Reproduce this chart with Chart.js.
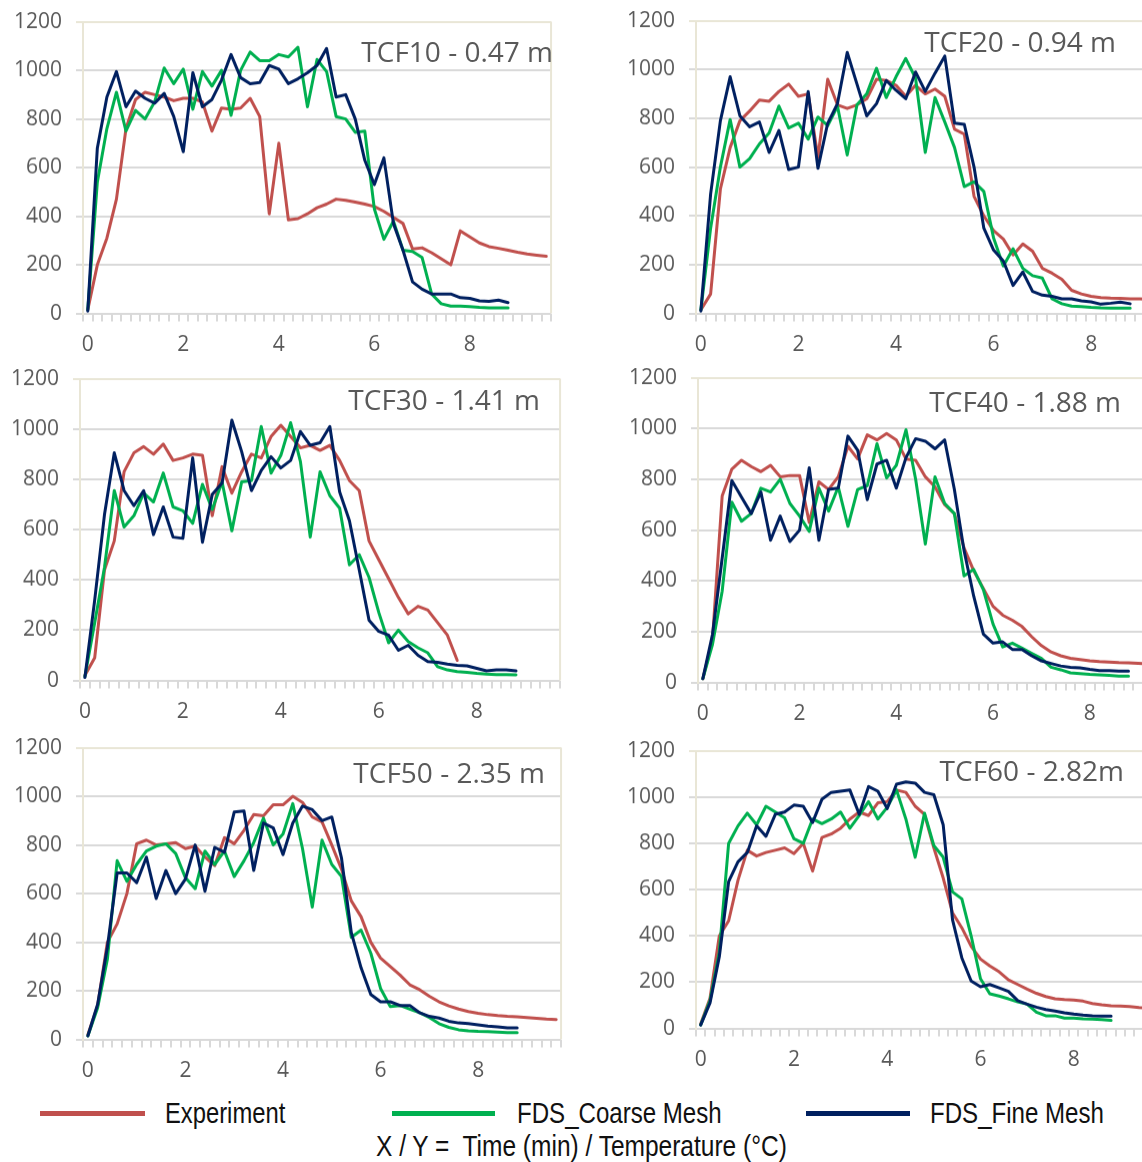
<!DOCTYPE html>
<html>
<head>
<meta charset="utf-8">
<script src="https://cdn.jsdelivr.net/npm/chart.js@4.4.1/dist/chart.umd.min.js"></script>
<style>
    html, body { margin: 0; padding: 0; background: #fff; }
    body { position: relative; width: 1142px; height: 1162px; overflow: hidden; }
    .panel { position: absolute; }
    .tag { position: absolute; font-family: "Open Sans", sans-serif; font-size: 28px; line-height: 28px; color: #595959; white-space: nowrap; }
    .key-line { position: absolute; height: 5px; }
    .key-text { position: absolute; font-family: "Liberation Sans", Arial, sans-serif; font-size: 29px; line-height: 30px; color: #111; white-space: nowrap; transform-origin: 0 50%; }
</style>
</head>
<body>

<div class="key-line" style="left:40px;top:1111px;width:105px;background:#C0504D"></div>
<div class="key-text" style="left:165px;top:1098px;transform:scaleX(0.82)">Experiment</div>
<div class="key-line" style="left:392px;top:1111px;width:103px;background:#00B050"></div>
<div class="key-text" style="left:517px;top:1098px;transform:scaleX(0.83)">FDS_Coarse Mesh</div>
<div class="key-line" style="left:806px;top:1111px;width:104px;background:#002060"></div>
<div class="key-text" style="left:930px;top:1098px;transform:scaleX(0.83)">FDS_Fine Mesh</div>
<div class="key-text" style="left:376px;top:1131px;transform:scaleX(0.845)">X / Y =&nbsp; Time (min) / Temperature (°C)</div>

<script>
// time in minutes (category axis)
const times = [0, 0.2, 0.4, 0.6, 0.8, 1, 1.2, 1.4, 1.6, 1.8, 2, 2.2, 2.4, 2.6, 2.8, 3, 3.2, 3.4, 3.6, 3.8,
    4, 4.2, 4.4, 4.6, 4.8, 5, 5.2, 5.4, 5.6, 5.8, 6, 6.2, 6.4, 6.6, 6.8, 7, 7.2, 7.4, 7.6, 7.8,
    8, 8.2, 8.4, 8.6, 8.8, 9, 9.2, 9.4, 9.6];
const yTicks = [0, 200, 400, 600, 800, 1000, 1200];
const panelNames = ['TCF10 - 0.47 m', 'TCF20 - 0.94 m', 'TCF30 - 1.41 m', 'TCF40 - 1.88 m', 'TCF50 - 2.35 m', 'TCF60 - 2.82m'];
const seriesNames = ['Experiment', 'FDS_Coarse Mesh', 'FDS_Fine Mesh'];

// TCF10
const tcf10Exp = [15, 200, 310, 470, 760, 880, 910, 900, 890, 875, 885, 885, 870, 750, 845, 840, 845, 885, 810, 410,
    700, 385, 390, 410, 435, 450, 470, 465, 458, 450, 440, 420, 395, 370, 265, 270, 250, 225, 200, 340,
    315, 290, 275, 268, 260, 252, 245, 240, 235];
const tcf10Coarse = [15, 540, 760, 910, 750, 835, 800, 870, 1010, 945, 1005, 840, 995, 935, 1000, 815, 1000, 1075, 1040, 1040,
    1065, 1055, 1095, 850, 1045, 995, 810, 800, 745, 750, 430, 305, 380, 260, 255, 230, 80, 40, 30, 30,
    28, 25, 23, 23, 23];
const tcf10Fine = [10, 680, 890, 995, 850, 915, 885, 865, 905, 810, 665, 990, 850, 880, 960, 1065, 970, 945, 950, 1020,
    1005, 945, 965, 990, 1020, 1090, 890, 900, 800, 630, 530, 640, 370, 260, 130, 100, 80, 80, 80, 65,
    62, 52, 50, 55, 45];

// TCF20
const tcf20Exp = [15, 80, 510, 680, 790, 830, 875, 870, 910, 940, 890, 900, 640, 960, 855, 840, 855, 880, 960, 955,
    935, 890, 935, 900, 920, 890, 755, 735, 480, 400, 340, 305, 240, 285, 255, 185, 165, 140, 95, 80,
    70, 65, 63, 62, 60, 60, 58, 58, 57];
const tcf20Coarse = [15, 350, 600, 795, 600, 635, 695, 740, 850, 760, 780, 715, 805, 770, 850, 650, 855, 900, 1005, 885,
    970, 1045, 965, 660, 885, 785, 680, 520, 540, 500, 310, 195, 265, 185, 155, 145, 60, 40, 30, 28,
    25, 23, 22, 22, 22];
const tcf20Fine = [10, 490, 790, 970, 810, 765, 785, 660, 750, 590, 600, 910, 595, 780, 860, 1070, 940, 810, 860, 955,
    915, 880, 990, 910, 985, 1055, 780, 775, 600, 350, 260, 215, 115, 170, 90, 75, 70, 60, 60, 52,
    48, 38, 42, 47, 40];

// TCF30
const tcf30Exp = [20, 90, 440, 555, 830, 905, 930, 900, 940, 875, 885, 900, 895, 655, 850, 745, 830, 900, 885, 970,
    1015, 970, 925, 935, 915, 935, 875, 795, 755, 555, 480, 405, 330, 265, 295, 280, 230, 180, 80];
const tcf30Coarse = [15, 230, 450, 755, 610, 655, 745, 710, 825, 690, 675, 625, 780, 680, 790, 595, 790, 795, 1010, 825,
    895, 1025, 870, 570, 830, 735, 685, 460, 500, 410, 270, 150, 200, 155, 130, 110, 55, 42, 35, 32,
    28, 25, 23, 23, 22];
const tcf30Fine = [12, 320, 660, 905, 755, 695, 755, 580, 690, 570, 565, 885, 550, 740, 785, 1035, 910, 755, 835, 890,
    845, 875, 990, 935, 945, 1010, 750, 635, 440, 240, 195, 180, 120, 140, 100, 75, 72, 65, 60, 58,
    48, 38, 42, 42, 38];

// TCF40
const tcf40Exp = [15, 170, 735, 840, 875, 850, 830, 855, 810, 815, 815, 630, 790, 760, 810, 930, 880, 975, 955, 980,
    955, 880, 875, 810, 770, 700, 665, 530, 440, 370, 300, 265, 245, 220, 180, 145, 120, 105, 95, 90,
    85, 82, 80, 78, 77, 75, 73, 72, 70];
const tcf40Coarse = [15, 150, 360, 710, 635, 665, 765, 750, 800, 705, 655, 595, 765, 675, 770, 615, 760, 775, 940, 805,
    855, 995, 800, 545, 810, 705, 665, 420, 445, 365, 230, 140, 155, 135, 115, 95, 60, 50, 38, 35,
    32, 30, 28, 25, 25];
const tcf40Fine = [15, 190, 490, 795, 730, 665, 750, 560, 655, 555, 600, 845, 560, 760, 765, 970, 915, 720, 860, 875,
    765, 885, 960, 950, 920, 955, 760, 520, 340, 190, 155, 160, 130, 130, 105, 85, 75, 65, 60, 58,
    52, 47, 47, 45, 45];

// TCF50
const tcf50Exp = [20, 140, 400, 475, 600, 805, 820, 800, 805, 810, 785, 795, 750, 715, 830, 805, 860, 925, 920, 965,
    965, 1000, 975, 915, 895, 800, 700, 570, 505, 400, 335, 300, 265, 225, 205, 178, 155, 138, 125, 115,
    108, 102, 98, 95, 93, 90, 87, 84, 82];
const tcf50Coarse = [15, 130, 330, 735, 650, 720, 775, 795, 805, 765, 665, 620, 775, 720, 775, 670, 735, 810, 910, 800,
    845, 970, 785, 545, 820, 720, 670, 420, 450, 355, 210, 135, 140, 125, 110, 90, 65, 50, 40, 35,
    33, 32, 30, 28, 28];
const tcf50Fine = [15, 145, 380, 685, 685, 645, 750, 580, 695, 600, 660, 800, 610, 790, 770, 935, 940, 695, 890, 870,
    760, 890, 960, 945, 900, 915, 745, 440, 295, 185, 155, 155, 140, 140, 110, 95, 88, 75, 68, 65,
    60, 55, 52, 48, 48];

// TCF60
const tcf60Exp = [20, 130, 400, 465, 640, 770, 745, 760, 770, 780, 755, 800, 680, 825, 840, 865, 905, 935, 920, 975,
    980, 1030, 1020, 960, 925, 780, 650, 500, 435, 355, 300, 270, 245, 210, 190, 170, 152, 138, 128, 125,
    123, 118, 108, 102, 98, 97, 95, 90, 88];
const tcf60Coarse = [15, 120, 330, 800, 875, 930, 880, 960, 935, 910, 820, 800, 905, 885, 905, 935, 865, 920, 980, 905,
    955, 1030, 905, 740, 930, 790, 740, 590, 560, 400, 215, 150, 140, 128, 115, 105, 70, 55, 55, 45,
    45, 42, 40, 38, 35];
const tcf60Fine = [15, 110, 310, 635, 720, 760, 875, 830, 925, 935, 965, 960, 890, 990, 1020, 1025, 1030, 925, 1045, 1025,
    950, 1055, 1065, 1060, 1020, 1010, 880, 470, 305, 205, 180, 190, 175, 160, 120, 105, 92, 82, 75, 68,
    62, 58, 55, 53, 53];

const panelSeries = [
    [tcf10Exp, tcf10Coarse, tcf10Fine],
    [tcf20Exp, tcf20Coarse, tcf20Fine],
    [tcf30Exp, tcf30Coarse, tcf30Fine],
    [tcf40Exp, tcf40Coarse, tcf40Fine],
    [tcf50Exp, tcf50Coarse, tcf50Fine],
    [tcf60Exp, tcf60Coarse, tcf60Fine]
];

// layout: plot area edges in page pixels, and title anchor (right edge, middle y)
const layout = [
    { left: 83, right: 551, top: 22, bottom: 313, tagRight: 553, tagY: 52 },
    { left: 696, right: 1174, top: 21, bottom: 313, tagRight: 1116, tagY: 42 },
    { left: 80, right: 560, top: 379, bottom: 680, tagRight: 540, tagY: 400 },
    { left: 698, right: 1172, top: 378, bottom: 682, tagRight: 1121, tagY: 402 },
    { left: 83, right: 561, top: 748, bottom: 1039, tagRight: 545, tagY: 773 },
    { left: 696, right: 1153, top: 751, bottom: 1028, tagRight: 1124, tagY: 771 }
];

const COLORS = ['#C0504D', '#00B050', '#002060'];
const GRID = '#D9D9D9';
const BEIGE = '#E9E6D6';
const Y_AXIS_W = 83;
const X_AXIS_H = 52;
const TOP_PAD = 14;

// right edge of the plot frame
const framePlugin = {
    id: 'frame',
    beforeDatasetsDraw(chart) {
        const { ctx, chartArea: a } = chart;
        ctx.save();
        ctx.strokeStyle = BEIGE;
        ctx.lineWidth = 2;
        ctx.beginPath();
        ctx.moveTo(a.right, a.bottom);
        ctx.lineTo(a.right, a.top);
        ctx.stroke();
        ctx.restore();
    }
};

function makePanel(i) {
    const p = layout[i];
    const box = document.createElement('div');
    box.className = 'panel';
    const boxW = p.right - p.left + Y_AXIS_W;
    const boxH = p.bottom - p.top + TOP_PAD + X_AXIS_H;
    box.style.left = (p.left - Y_AXIS_W) + 'px';
    box.style.top = (p.top - TOP_PAD) + 'px';
    box.style.width = boxW + 'px';
    box.style.height = boxH + 'px';
    const canvas = document.createElement('canvas');
    box.appendChild(canvas);
    document.body.appendChild(box);

    const tag = document.createElement('div');
    tag.className = 'tag';
    tag.textContent = panelNames[i];
    tag.style.right = (1142 - p.tagRight) + 'px';
    tag.style.top = (p.tagY - 15) + 'px';
    document.body.appendChild(tag);

    const datasets = panelSeries[i].map((data, k) => ({
        label: seriesNames[k],
        data: data,
        borderColor: COLORS[k],
        backgroundColor: COLORS[k],
        borderWidth: 3,
        pointRadius: 0,
        tension: 0,
        fill: false,
        borderJoinStyle: 'round',
        borderCapStyle: 'round',
        order: 3 - k
    }));

    const chart = new Chart(canvas, {
        type: 'line',
        data: { labels: times, datasets: datasets },
        options: {
            responsive: true,
            maintainAspectRatio: false,
            animation: false,
            layout: { padding: { top: TOP_PAD, right: 0, left: 0, bottom: 0 } },
            plugins: { legend: { display: false }, tooltip: { enabled: false } },
            scales: {
                x: {
                    type: 'category',
                    offset: true,
                    grid: { offset: true, drawOnChartArea: false, drawTicks: true, tickLength: 8, color: GRID, lineWidth: 2 },
                    border: { display: false },
                    ticks: {
                        autoSkip: false,
                        maxRotation: 0,
                        padding: 11,
                        color: '#595959',
                        font: { family: 'Open Sans', size: 21 },
                        callback: (v, idx) => (idx % 10 === 0 ? String(times[idx]) : '')
                    },
                    afterFit: s => { s.height = X_AXIS_H; }
                },
                y: {
                    min: yTicks[0],
                    max: yTicks[yTicks.length - 1],
                    afterBuildTicks: s => { s.ticks = yTicks.map(v => ({ value: v })); },
                    grid: {
                        color: c => (c.tick && c.tick.value === 1200 ? BEIGE : GRID),
                        lineWidth: 2,
                        tickLength: 7
                    },
                    border: { display: true, color: BEIGE, width: 2 },
                    ticks: {
                        padding: 14,
                        color: '#595959',
                        font: { family: 'Open Sans', size: 21 },
                        callback: v => String(v)
                    },
                    afterFit: s => { s.width = Y_AXIS_W; }
                }
            }
        },
        plugins: [framePlugin]
    });

    // nudge the box so the plot area lands on the wanted page pixels
    const a = chart.chartArea;
    box.style.left = (p.left - a.left) + 'px';
    box.style.top = (p.top - a.top) + 'px';
    box.style.width = (p.right - p.left + a.left + (boxW - a.right)) + 'px';
    box.style.height = (p.bottom - p.top + a.top + (boxH - a.bottom)) + 'px';
    chart.resize();
}

for (let i = 0; i < layout.length; i++) makePanel(i);
</script>
</body>
</html>
